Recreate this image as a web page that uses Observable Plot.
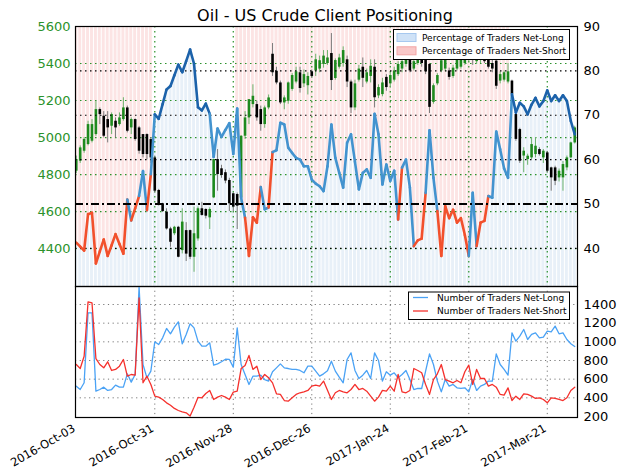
<!DOCTYPE html>
<html><head><meta charset="utf-8">
<script src="https://cdn.jsdelivr.net/npm/d3@7"></script>
<script src="https://cdn.jsdelivr.net/npm/@observablehq/plot@0.6"></script>
<style>
body{margin:0;background:#fff;}
#chart{position:relative;width:624px;height:476px;overflow:hidden;font-family:"DejaVu Sans",sans-serif;}
#chart svg{position:absolute;left:0;top:0;}
</style></head><body><div id="chart"></div>
<script>
// ---------------- DATA ----------------
const title = "Oil - US Crude Client Positioning";
const dateTicks = [0, 20, 40, 60, 80, 100, 120];
const dateLabels = ["2016-Oct-03","2016-Oct-31","2016-Nov-28","2016-Dec-26","2017-Jan-24","2017-Feb-21","2017-Mar-21"];
const priceTicks = [4400, 4600, 4800, 5000, 5200, 5400, 5600];
const pctTicks = [40, 50, 60, 70, 80, 90];
const countTicks = [200, 400, 600, 800, 1000, 1200, 1400];

// percentage of traders net-long (daily)
const pctLong = [
 41.3,40.4,39.5,47.7,48,36.6,39.3,42,38.3,40.7,
 43.2,41,38.8,51,46.3,49,51.8,57.4,48.6,56.7,
 70.2,69.2,72.5,75.8,76.6,79,81.4,79.7,82.2,84.8,
 81.6,71.8,71.1,72.6,70.3,60.6,67,65.1,66.7,68.2,
 61.3,71.5,51.4,46.9,38.3,47,45.8,53.8,48.8,49.2,
 61.7,62.1,68.3,67.9,62.7,61.5,60.4,60,58.5,58.5,
 55.5,54.6,54,52.9,58.5,67.9,60.4,57,53.7,63.8,
 65.7,59.5,53.3,57,57.8,55.9,70.3,65.7,54.4,58.9,
 55.2,57.5,46.5,58.2,60,53.7,40.5,41.8,42.2,52.5,
 66.6,55.9,48.4,38.3,49.5,46.8,48.7,45.8,46.8,43,
 38.3,52.5,40.5,45.8,46.2,51.8,51.4,66.3,62.3,58,
 55.9,74.7,70.6,72.8,72,70.2,72.4,73.9,72,73.2,
 75.6,73.2,74.5,73.2,74.5,73.2,68.7,65.7];
// line regime for each segment starting at a day: S = short, L = long, D = strongly long
const regime = (
 "SSSSSSSSSS" + "SSSLSSLLSL" + "DDDDDDDDDD" + "DDDDLLLLLL" + "LLLSSSSLLS" +
 "LLLLLLLLLL" + "LLLLLLLLLL" + "LLLLLLLLLL" + "LLSLLLSSSL" + "LLSSSSSSSS" +
 "LLSSSLLLLL" + "LDDDDDDDDD" + "DDDDDDDD").split("");
// contrarian signal runs [firstDay, lastDay, signal]
const signalRuns = [[0, 19, "short"], [20, 40, "long"], [41, 110, "short"], [111, 127, "long"]];

// price OHLC
const open = [
 4818,4872,4926,4962,4980,5016,5151,5115,5097,5061,
 5088,5070,5097,5160,5052,5097,5052,5016,5016,4989,
 4890,4714,4642,4597,4506,4480,4515,4389,4497,4497,
 4353,4452,4615,4611,4566,4674,4881,4831,4810,4768,
 4696,4692,4674,5007,5106,5178,5178,5151,5070,5160,
 5450,5358,5295,5187,5196,5260,5300,5350,5290,5280,
 5355,5360,5370,5395,5400,5454,5319,5380,5400,5420,
 5300,5160,5310,5380,5300,5330,5380,5225,5232,5325,
 5290,5310,5340,5370,5395,5430,5370,5400,5440,5450,
 5395,5190,5290,5360,5370,5360,5330,5370,5380,5400,
 5420,5440,5410,5420,5435,5420,5400,5413,5305,5310,
 5300,5305,5124,5043,4900,4881,4890,4908,4935,4890,
 4917,4836,4836,4782,4782,4836,4890,4971];
const high = [
 4900,4955,5000,5088,5097,5196,5160,5140,5140,5133,
 5106,5133,5215,5170,5106,5100,5060,5016,5020,5000,
 4900,4720,4645,4615,4515,4520,4520,4615,4540,4500,
 4624,4625,4650,4615,4620,4881,4935,4850,4825,4780,
 4700,4700,5010,5140,5205,5285,5196,5170,5170,5230,
 5508,5380,5305,5225,5300,5345,5380,5380,5365,5350,
 5365,5450,5440,5470,5470,5562,5425,5450,5490,5440,
 5310,5310,5390,5430,5370,5420,5420,5285,5320,5340,
 5350,5380,5410,5430,5450,5440,5430,5460,5480,5460,
 5400,5290,5345,5430,5440,5375,5390,5440,5445,5440,
 5470,5460,5450,5460,5445,5440,5440,5420,5355,5360,
 5400,5310,5140,5050,4945,4910,5000,5000,4945,4935,
 4925,4840,4845,4830,4870,4900,4975,5061];
const low = [
 4805,4860,4915,4955,4971,5007,5070,4998,4971,5016,
 4998,5061,5088,5025,5016,4980,4910,4890,4880,4860,
 4700,4630,4595,4500,4407,4470,4350,4371,4330,4340,
 4272,4440,4575,4560,4503,4670,4710,4780,4750,4600,
 4600,4503,4650,4990,5070,5160,5088,5034,5050,5150,
 5330,5285,5178,5150,5180,5250,5290,5240,5270,5230,
 5320,5330,5350,5375,5390,5254,5310,5370,5380,5270,
 5130,5145,5300,5270,5290,5295,5160,5210,5220,5250,
 5270,5300,5330,5350,5380,5350,5360,5390,5380,5340,
 5130,5180,5280,5350,5355,5310,5320,5360,5370,5390,
 5410,5390,5395,5400,5400,5370,5350,5260,5290,5300,
 5290,5205,4980,4860,4810,4850,4881,4890,4900,4860,
 4809,4710,4740,4760,4710,4820,4885,4965];
const close = [
 4881,4944,4990,5070,5070,5151,5124,5007,5052,5124,
 5052,5106,5160,5034,5097,4989,4926,4908,4908,4890,
 4710,4642,4600,4506,4434,4515,4353,4543,4370,4353,
 4480,4615,4579,4575,4611,4881,4800,4795,4765,4642,
 4624,4629,5007,5106,5205,5223,5106,5070,5160,5214,
 5350,5295,5187,5214,5295,5335,5355,5265,5340,5330,
 5330,5420,5415,5440,5430,5308,5416,5430,5470,5300,
 5160,5290,5370,5320,5350,5385,5215,5270,5295,5270,
 5335,5360,5395,5410,5440,5360,5410,5445,5400,5355,
 5163,5280,5335,5415,5420,5325,5375,5420,5430,5425,
 5450,5420,5430,5440,5410,5380,5370,5277,5340,5350,
 5355,5233,4990,4872,4926,4899,4962,4953,4908,4926,
 4818,4782,4764,4818,4854,4890,4971,5052];

// number of traders
const tradersLong = [
 525,489,561,1311,1311,471,489,514,479,489,
 536,514,514,657,568,650,1590,757,614,686,
 1000,971,1043,1143,1086,1157,1214,979,1079,1193,
 1150,1007,953,953,989,750,764,786,814,811,
 729,1150,757,650,543,632,632,643,596,579,
 679,721,764,721,714,704,704,693,668,739,
 739,686,632,657,690,793,686,621,561,811,
 882,693,607,643,693,607,882,800,579,679,
 643,668,614,650,693,596,489,500,500,686,
 871,757,579,464,596,525,543,507,500,507,
 464,596,479,525,543,579,579,871,757,704,
 643,1096,1007,1061,1132,1025,1079,1096,1043,1050,
 1114,1107,1168,1086,1096,1025,979,950];
const tradersShort = [
 757,714,846,1428,1418,821,757,721,786,693,
 704,739,811,632,650,643,1471,561,632,543,
 418,407,382,346,321,286,264,250,239,204,
 300,404,400,446,479,382,407,425,407,382,
 461,472,714,746,854,704,739,596,650,614,
 560,443,436,371,364,400,436,454,464,479,
 525,536,525,579,480,382,454,479,464,454,
 489,543,489,500,471,418,364,407,479,471,
 525,471,650,464,454,479,714,693,668,543,
 436,596,657,757,596,579,561,586,561,679,
 750,543,704,607,607,525,543,514,436,429,
 507,371,418,382,443,436,418,393,400,382,
 346,400,393,382,371,400,479,514];

const topLegend = ["Percentage of Traders Net-Long", "Percentage of Traders Net-Short"];
const bottomLegend = ["Number of Traders Net-Long", "Number of Traders Net-Short"];

// ---------------- BUILD ----------------
const W = 624, H = 476;
const N = pctLong.length;
const idx = d3.range(N);
const xScale = {type: "linear", domain: [-0.2, 127.7], axis: null};
const pctDomain = [31.4, 90];
const priceDomain = [4195, 5600];
const countDomain = [189, 1593];
const topM = {marginLeft: 75, marginRight: 47, marginTop: 26, marginBottom: 190};
const botM = {marginLeft: 75, marginRight: 47, marginTop: 286, marginBottom: 59};
const base = {width: W, height: H, style: {background: "transparent", fontFamily: "DejaVu Sans, sans-serif", overflow: "visible"}};
const plain = d => String(d);

const GREEN = "#2b922b";
const regimeColor = {S: "#f2502c", L: "#4393cf", D: "#1c62aa"};

const signal = idx.map(i => signalRuns.find(r => i >= r[0] && i <= r[1])[2]);
const days = idx.map(i => ({i, p: pctLong[i], sig: signal[i]}));
const segs = idx.slice(0, N - 1).map(i => ({i, j: i + 1, p0: pctLong[i], p1: pctLong[i + 1], r: regime[i]}));
const candles = idx.map(i => ({i, o: open[i], h: high[i], l: low[i], c: close[i], up: close[i] >= open[i]}));
const longPts = idx.map(i => ({i, v: tradersLong[i]}));
const shortPts = idx.map(i => ({i, v: tradersShort[i]}));

const chart = document.getElementById("chart");

// 1. background stripes
chart.append(Plot.plot({...base, ...topM, x: xScale, y: {domain: pctDomain, axis: null},
  marks: [
    Plot.rect(days, {x1: d => d.i - 0.5, x2: d => d.i + 0.5, y1: pctDomain[0], y2: "p",
      fill: "#dce8f5", fillOpacity: 0.65, insetLeft: 0.5, insetRight: 0.5, clip: true}),
    Plot.rect(days.filter(d => d.sig === "short"), {x1: d => d.i - 0.5, x2: d => d.i + 0.5, y1: "p", y2: pctDomain[1],
      fill: "#fbd6d6", fillOpacity: 0.65, insetLeft: 0.5, insetRight: 0.5, clip: true})
  ]}));

// 2. price panel (candles)
chart.append(Plot.plot({...base, ...topM, x: xScale, y: {domain: priceDomain, axis: null},
  marks: [
    Plot.ruleY(priceTicks.slice(0, -1), {stroke: GREEN, strokeWidth: 1.2, strokeDasharray: "1.5,3.5"}),
    Plot.ruleX(dateTicks.slice(1), {stroke: GREEN, strokeWidth: 1.2, strokeDasharray: "1.5,3.5"}),
    Plot.ruleX(candles, {x: "i", y1: "l", y2: "h", stroke: d => d.up ? "#6cb36c" : "#7a7a7a", strokeWidth: 1}),
    Plot.ruleX(candles, {x: "i", y1: "o", y2: "c", stroke: d => d.up ? "#1e8a1e" : "#000", strokeWidth: 2.6}),
    Plot.axisY(priceTicks, {anchor: "left", tickSize: 0, tickPadding: 5, fontSize: 13, color: GREEN, tickFormat: plain, label: null})
  ]}));

// 3. percentage line, grid, right axis
chart.append(Plot.plot({...base, ...topM, x: xScale, y: {domain: pctDomain, axis: null},
  marks: [
    Plot.ruleY([40, 60, 70, 80], {stroke: "#000", strokeWidth: 1.2, strokeDasharray: "1.5,3.5"}),
    Plot.link(segs, {x1: "i", y1: "p0", x2: "j", y2: "p1", stroke: d => regimeColor[d.r], strokeWidth: 2.6, strokeLinecap: "round"}),
    Plot.ruleY([50], {stroke: "#000", strokeWidth: 2, strokeDasharray: "8,3,2,3"}),
    Plot.frame({stroke: "#000", strokeWidth: 1.2}),
    Plot.axisY(pctTicks, {anchor: "right", tickSize: 0, tickPadding: 6, fontSize: 13, tickFormat: plain, label: null})
  ]}));

// 4. bottom panel
chart.append(Plot.plot({...base, ...botM, x: xScale, y: {domain: countDomain, axis: null},
  marks: [
    Plot.ruleY(countTicks.slice(1), {stroke: "#777", strokeWidth: 1, strokeDasharray: "1.2,3.5"}),
    Plot.ruleX(dateTicks.slice(1), {stroke: "#777", strokeWidth: 1, strokeDasharray: "1.2,3.5"}),
    Plot.line(longPts, {x: "i", y: "v", stroke: "#4aa2f5", strokeWidth: 1.3, clip: true}),
    Plot.line(shortPts, {x: "i", y: "v", stroke: "#f5302c", strokeWidth: 1.3, clip: true}),
    Plot.frame({stroke: "#000", strokeWidth: 1.2}),
    Plot.axisY(countTicks, {anchor: "right", tickSize: 0, tickPadding: 6, fontSize: 13, tickFormat: plain, label: null}),
    Plot.text(dateTicks.map((t, k) => ({t, label: dateLabels[k]})), {x: "t", text: "label", frameAnchor: "bottom",
      rotate: -30, textAnchor: "end", lineAnchor: "middle", dy: 10, dx: -2, fontSize: 11.5})
  ]}));

// 5. title and legends
const ov = d3.select(chart).append("svg").attr("width", W).attr("height", H)
  .attr("font-family", "DejaVu Sans, sans-serif");
ov.append("text").attr("x", 325).attr("y", 20.5).attr("text-anchor", "middle").attr("font-size", 16).text(title);

const lg1 = ov.append("g");
lg1.append("rect").attr("x", 393.5).attr("y", 29.5).attr("width", 176).attr("height", 30).attr("fill", "#fff").attr("stroke", "#000");
const patch = [["#cfe2f7", "#a6c8ef"], ["#f9c8c8", "#f2a5a5"]];
topLegend.forEach((t, k) => {
  lg1.append("rect").attr("x", 397).attr("y", 33.5 + k * 13.3).attr("width", 19).attr("height", 8).attr("fill", patch[k][0]).attr("stroke", patch[k][1]);
  lg1.append("text").attr("x", 422).attr("y", 41 + k * 13.3).attr("font-size", 9).text(t);
});
const lg2 = ov.append("g");
lg2.append("rect").attr("x", 408.5).attr("y", 292).attr("width", 161).attr("height", 27.5).attr("fill", "#fff").attr("stroke", "#000");
const lc = ["#4aa2f5", "#f5302c"];
bottomLegend.forEach((t, k) => {
  lg2.append("line").attr("x1", 413).attr("x2", 428).attr("y1", 297.5 + k * 13.5).attr("y2", 297.5 + k * 13.5).attr("stroke", lc[k]).attr("stroke-width", 1.3);
  lg2.append("text").attr("x", 437).attr("y", 300.8 + k * 13.5).attr("font-size", 9).text(t);
});
</script></body></html>
